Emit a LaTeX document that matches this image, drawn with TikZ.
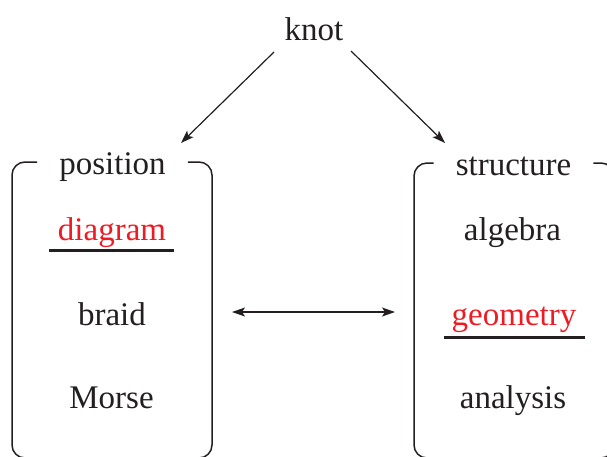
\documentclass[tikz,border=0pt]{standalone}
\usepackage{fontspec}
\setmainfont{Liberation Serif}
\usetikzlibrary{arrows.meta}
\definecolor{ink}{HTML}{231F20}
\definecolor{hl}{HTML}{ED1C24}
\begin{document}
\begin{tikzpicture}[x=1pt,y=-1pt,
  lbl/.style={anchor=base,inner sep=0pt,text=ink,font=\fontsize{33}{40}\selectfont},
  hot/.style={lbl,text=hl},
  ttl/.style={lbl,inner xsep=22pt},
  frame/.style={draw=ink,line width=1.5pt,rounded corners=13pt},
  tip/.style={},
  link/.style={draw=ink,line width=1.2pt,-{Stealth[length=13pt,width=9pt,inset=3pt]}},
  biline/.style={draw=ink,line width=1.2pt,{Stealth[length=13pt,width=9pt,inset=3pt]}-{Stealth[length=13pt,width=9pt,inset=3pt]}},
  uline/.style={draw=ink,line width=3pt}]
\useasboundingbox (0,0) rectangle (607,456);

% top concept
\node[lbl] (knot) at (314,40) {knot};

% left frame
\node[ttl] (pos) at (112.5,174) {position};
\coordinate (ltop) at (112,162);
\draw[frame] (pos.west |- ltop) -- (12,162) -- (12,458) -- (212,458) -- (212,162) -- (pos.east |- ltop);
\node[hot] (diag) at (112,240) {diagram};
\node[lbl] (braid) at (112,325) {braid};
\node[lbl] (morse) at (111.5,408) {Morse};
\coordinate (du1) at (49,250);
\coordinate (du2) at (174,250);
\draw[uline] (du1) -- (du2);

% right frame
\node[ttl] (str) at (513.5,175) {structure};
\coordinate (rtop) at (513,163);
\draw[frame] (str.west |- rtop) -- (414,163) -- (414,458) -- (614,458) -- (614,163) -- (str.east |- rtop);
\node[lbl] (alg) at (512.5,240) {algebra};
\node[hot] (geo) at (514,325) {geometry};
\node[lbl] (ana) at (513,408) {analysis};
\coordinate (gu1) at (444,337);
\coordinate (gu2) at (585,337);
\draw[uline] (gu1) -- (gu2);

% connectors
\coordinate (kl) at (274,52);
\coordinate (pl) at (181,143);
\coordinate (kr) at (351,51);
\coordinate (sr) at (445,143);
\draw[link] (kl) -- (pl);
\draw[link] (kr) -- (sr);
\coordinate (lside) at (212,312);
\coordinate (rside) at (414,312);
\draw[biline,shorten <=20pt,shorten >=19pt] (lside) -- (rside);
\end{tikzpicture}
\end{document}
